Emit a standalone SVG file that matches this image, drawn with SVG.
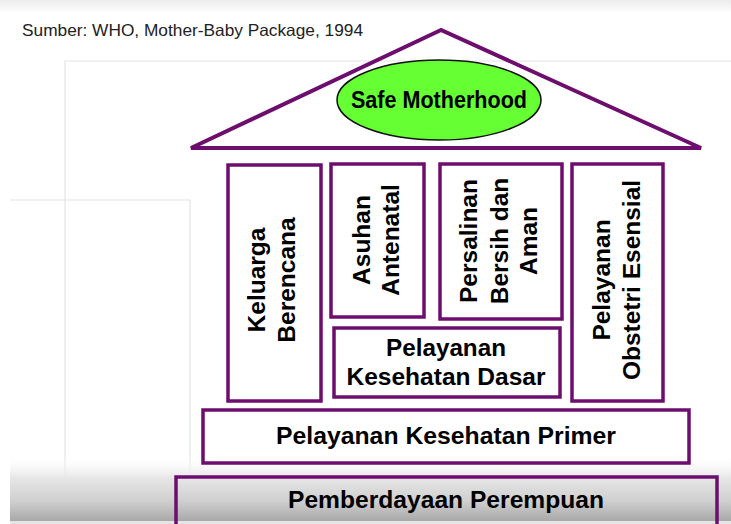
<svg xmlns="http://www.w3.org/2000/svg" width="731" height="524" viewBox="0 0 731 524">
  <defs>
    <linearGradient id="topband" x1="0" y1="0" x2="0" y2="1">
      <stop offset="0" stop-color="#ececec"/>
      <stop offset="1" stop-color="#ffffff"/>
    </linearGradient>
    <linearGradient id="bottomshade" x1="0" y1="0" x2="0" y2="1">
      <stop offset="0" stop-color="#ffffff" stop-opacity="0"/>
      <stop offset="0.35" stop-color="#e6e6e6"/>
      <stop offset="0.7" stop-color="#cfcfcf"/>
      <stop offset="1" stop-color="#a8a8a8"/>
    </linearGradient>
    <style>
      .box { fill: #ffffff; stroke: #6d0e6f; stroke-width: 3.5; }
      .open { fill: none; stroke: #6d0e6f; stroke-width: 3.5; }
      .bg { fill: none; stroke: #e3e3e3; stroke-width: 1.2; }
      .lbl { font-family: "Liberation Sans", Arial, sans-serif; font-weight: bold; font-size: 23.5px; fill: #000; text-anchor: middle; }
      .vlbl { font-family: "Liberation Sans", Arial, sans-serif; font-weight: bold; font-size: 24.5px; fill: #000; text-anchor: middle; }
    </style>
  </defs>

  <!-- background of screenshot -->
  <rect x="0" y="0" width="731" height="524" fill="#ffffff"/>
  <rect x="0" y="0" width="731" height="14" fill="url(#topband)"/>
  <g id="background-lines">
    <path class="bg" d="M65,61 H731 M65,61 V524"/>
    <path class="bg" d="M10,200 H190 V524"/>
  </g>
  <rect x="10" y="455" width="721" height="66" fill="url(#bottomshade)"/>
  <rect x="10" y="521" width="721" height="3" fill="#e4e4e4"/>

  <text x="22" y="36" font-family="Liberation Sans, Arial, sans-serif" font-size="16.5" fill="#222" textLength="341" lengthAdjust="spacingAndGlyphs">Sumber: WHO, Mother-Baby Package, 1994</text>

  <g id="roof">
    <polygon points="441,30 191,148 701,148" fill="none" stroke="#6d0e6f" stroke-width="4" stroke-linejoin="miter"/>
  </g>
  <g id="safe-motherhood">
    <ellipse cx="439" cy="100" rx="102" ry="40" fill="#66ff33" stroke="#111" stroke-width="1.5"/>
    <text class="lbl" x="439" y="108" textLength="176" lengthAdjust="spacingAndGlyphs">Safe Motherhood</text>
  </g>

  <g id="keluarga-berencana">
    <rect class="box" x="228" y="165" width="93" height="236"/>
    <text class="vlbl" transform="translate(265,280) rotate(-90)"><tspan x="0" y="0">Keluarga</tspan><tspan x="0" y="30">Berencana</tspan></text>
  </g>
  <g id="asuhan-antenatal">
    <rect class="box" x="331" y="164" width="93" height="153"/>
    <text class="vlbl" transform="translate(370,240) rotate(-90)"><tspan x="0" y="0">Asuhan</tspan><tspan x="0" y="29">Antenatal</tspan></text>
  </g>
  <g id="persalinan">
    <rect class="box" x="440" y="164" width="122" height="155"/>
    <text class="vlbl" transform="translate(477,241) rotate(-90)"><tspan x="0" y="0">Persalinan</tspan><tspan x="0" y="31">Bersih dan</tspan><tspan x="0" y="60">Aman</tspan></text>
  </g>
  <g id="pelayanan-obstetri">
    <rect class="box" x="572" y="164" width="91" height="237"/>
    <text class="vlbl" transform="translate(610,280) rotate(-90)"><tspan x="0" y="0">Pelayanan</tspan><tspan x="0" y="30">Obstetri Esensial</tspan></text>
  </g>
  <g id="kesehatan-dasar">
    <rect class="box" x="334" y="328" width="226" height="69"/>
    <text class="lbl" x="446" y="356" textLength="120" lengthAdjust="spacingAndGlyphs">Pelayanan</text>
    <text class="lbl" x="446" y="385" textLength="199" lengthAdjust="spacingAndGlyphs">Kesehatan Dasar</text>
  </g>
  <g id="kesehatan-primer">
    <rect class="box" x="203" y="410" width="486" height="53"/>
    <text class="lbl" x="446" y="444" textLength="340" lengthAdjust="spacingAndGlyphs">Pelayanan Kesehatan Primer</text>
  </g>
  <g id="pemberdayaan-perempuan">
    <path class="open" d="M176,530 V477 H717 V530"/>
    <text class="lbl" x="446" y="508" textLength="316" lengthAdjust="spacingAndGlyphs">Pemberdayaan Perempuan</text>
  </g>
  <g id="connectors"></g>
</svg>
